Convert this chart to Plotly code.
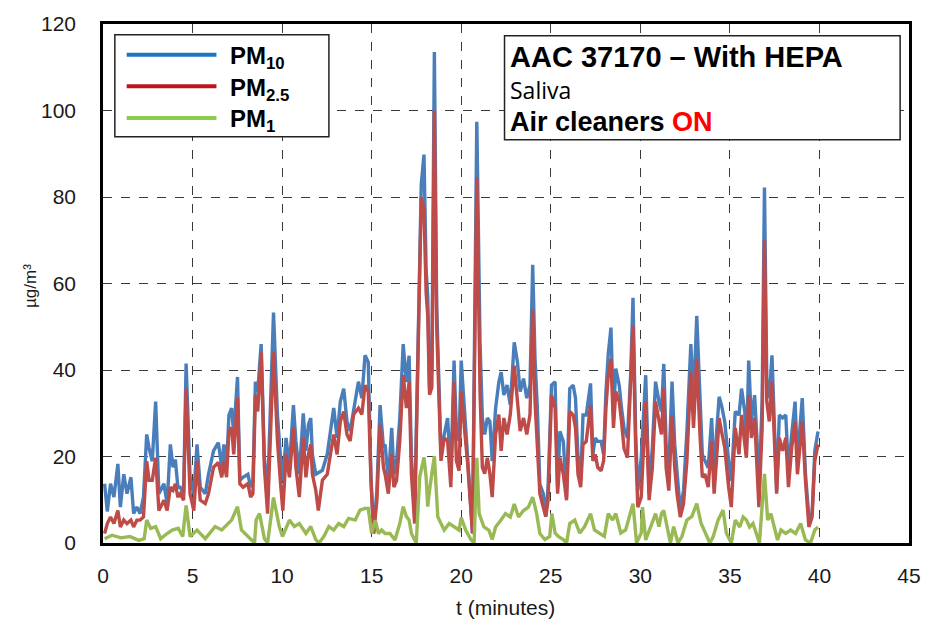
import plotly.graph_objects as go

# ---- data (time in minutes, concentrations in ug/m3) ----
t_pm = [0.09, 0.24, 0.42, 0.61, 0.83, 0.97, 1.16, 1.34, 1.56, 1.71, 1.89, 2.07, 2.26, 2.44, 2.57, 2.75,
        2.94, 3.12, 3.40, 3.58, 3.76, 3.91, 4.04, 4.18, 4.31, 4.50, 4.64, 4.86,
        5.07, 5.25, 5.43, 5.71, 5.89, 6.17, 6.44, 6.63, 6.75, 6.90, 7.03, 7.18, 7.30, 7.51, 7.64, 7.82,
        8.09, 8.24, 8.37, 8.51, 8.64, 8.83, 9.01, 9.19, 9.52, 9.74, 9.90, 10.04,
        10.22, 10.41, 10.63, 10.77, 10.96, 11.18, 11.33, 11.47, 11.60, 11.69, 11.88, 12.02, 12.25, 12.52,
        12.70, 12.88, 13.07, 13.25, 13.44, 13.62, 13.80, 13.99, 14.26, 14.45, 14.63, 14.81, 14.96,
        15.11, 15.29, 15.47, 15.66, 15.75, 15.93, 16.12, 16.24, 16.39, 16.57, 16.76, 16.94, 17.09, 17.22,
        17.40, 17.64, 17.77, 17.92, 18.04, 18.13, 18.23, 18.36, 18.50, 18.63, 18.78, 18.87, 19.05, 19.24,
        19.42, 19.60, 19.73, 19.88, 20.00,
        20.17, 20.36, 20.63, 20.87, 21.05, 21.18, 21.31, 21.46, 21.60, 21.73, 21.92, 22.10, 22.23, 22.38,
        22.56, 22.74, 22.96, 23.14, 23.29, 23.48, 23.66, 23.84, 23.99, 24.12, 24.25, 24.39, 24.58, 24.72,
        24.85, 25.04,
        25.24, 25.38, 25.51, 25.70, 25.88, 26.06, 26.25, 26.38, 26.52, 26.67, 26.80, 26.98, 27.22, 27.35,
        27.48, 27.62, 27.81, 27.95, 28.08, 28.21, 28.36, 28.50, 28.63, 28.82, 28.95, 29.09, 29.28, 29.46,
        29.59, 29.74, 29.86, 30.05,
        30.30, 30.49, 30.67, 30.85, 31.04, 31.18, 31.31, 31.44, 31.59, 31.77, 31.92, 32.05, 32.23, 32.41,
        32.60, 32.82, 32.97, 33.15, 33.33, 33.46, 33.61, 33.79, 33.98, 34.12, 34.25, 34.40, 34.53, 34.71,
        34.93, 35.08, 35.30,
        35.51, 35.65, 35.83, 35.92, 36.05, 36.20, 36.38, 36.51, 36.62, 36.80, 36.93, 37.06, 37.20, 37.35,
        37.48, 37.61, 37.76, 37.94, 38.12, 38.27, 38.45, 38.64, 38.77, 39.04, 39.22, 39.41, 39.59, 39.74,
        39.92]

pm10 = [13.7, 7.3, 13.7, 10.6, 18.3, 8.3, 15.9, 11.4, 15.2, 6.8, 8.3, 6.8, 10.6, 25.1, 22.0, 18.9,
        32.7, 11.4, 13.7, 9.1, 22.8, 17.5, 19.3, 12.9, 12.9, 11.4, 41.5, 15.2,
        11.4, 22.8, 12.9, 11.4, 15.9, 21.3, 23.2, 17.5, 22.8, 17.5, 29.6, 31.2, 25.1, 38.4, 14.5, 15.2,
        15.9, 12.9, 14.5, 37.3, 35.0, 46.0, 19.7, 11.4, 53.3, 29.6, 20.5, 14.4,
        24.3, 17.5, 31.9, 23.6, 15.9, 30.0, 21.3, 27.4, 28.9, 20.5, 15.9, 16.3, 16.8, 20.5,
        25.9, 31.2, 24.3, 32.7, 35.7, 28.1, 25.9, 30.4, 37.3, 33.5, 43.4, 41.8, 15.2,
        2.2, 12.1, 31.9, 22.0, 22.8, 14.4, 26.6, 15.9, 18.9, 28.9, 46.0, 37.2, 43.3, 19.7,
        6.8, 60.1, 83.0, 89.8, 63.2, 57.1, 35.8, 40.0, 113.5, 55.0, 32.0, 20.5, 25.1, 28.9,
        15.9, 42.2, 25.9, 23.6, 42.2,
        32.7, 19.7, 2.2, 97.4, 46.4, 28.9, 25.1, 28.9, 28.1, 18.9, 31.2, 37.2, 39.5, 34.2,
        36.5, 31.9, 46.4, 41.8, 35.0, 38.0, 33.5, 36.5, 64.3, 42.6, 31.2, 13.6, 11.4, 6.1,
        12.9, 36.5,
        37.3, 12.9, 25.8, 23.5, 10.6, 35.7, 36.5, 33.5, 19.7, 14.4, 29.6, 29.6, 36.9, 20.5,
        24.3, 23.5, 23.5, 20.5, 35.0, 43.7, 49.8, 29.6, 40.3, 36.5, 31.2, 26.6, 24.3, 38.8,
        56.7, 25.1, 12.1, 19.7,
        38.8, 11.4, 22.1, 37.3, 32.7, 30.4, 41.4, 22.8, 17.4, 37.3, 22.8, 15.9, 7.5, 12.1,
        25.8, 46.0, 32.7, 52.5, 32.0, 20.5, 19.0, 17.4, 28.9, 15.2, 25.1, 33.8, 31.9, 28.1,
        19.0, 14.4, 30.4,
        29.6, 35.7, 30.4, 20.5, 42.2, 28.1, 34.2, 24.3, 11.4, 32.7, 82.2, 38.0, 33.5, 43.4,
        28.1, 12.1, 29.6, 28.9, 29.6, 16.7, 25.1, 32.7, 19.0, 33.5, 15.9, 6.0, 6.8, 21.3,
        25.8]

pm25 = [2.2, 4.5, 6.0, 4.5, 7.5, 3.7, 5.3, 4.5, 5.3, 3.7, 5.3, 5.3, 6.0, 18.9, 14.5, 14.5,
        19.7, 7.5, 9.9, 7.5, 12.9, 12.2, 13.7, 10.6, 11.4, 9.9, 35.7, 11.4,
        7.5, 18.9, 9.9, 9.1, 11.4, 17.5, 18.6, 15.2, 18.9, 15.2, 25.9, 26.7, 20.5, 33.5, 13.7, 12.9,
        13.7, 10.6, 11.4, 34.2, 30.4, 44.1, 17.5, 6.8, 44.1, 23.6, 14.4, 7.5,
        20.5, 15.2, 26.7, 17.5, 10.6, 24.3, 15.2, 20.5, 22.8, 15.9, 12.2, 7.5, 14.5, 15.9,
        20.5, 25.1, 20.5, 28.1, 30.4, 25.1, 23.6, 29.7, 31.2, 29.7, 36.5, 35.0, 14.5,
        2.2, 9.8, 27.4, 17.4, 15.9, 11.4, 20.5, 12.9, 14.4, 23.6, 38.8, 31.2, 37.2, 15.9,
        4.5, 54.0, 79.9, 77.0, 57.9, 52.6, 34.3, 36.0, 100.0, 50.0, 27.4, 19.0, 24.3, 23.6,
        12.9, 37.2, 19.0, 16.7, 35.0,
        27.3, 18.2, 2.2, 84.5, 35.0, 17.5, 16.0, 19.7, 16.0, 10.6, 25.1, 29.7, 21.3, 28.9,
        25.1, 29.7, 41.0, 32.7, 25.9, 28.9, 25.1, 29.7, 54.0, 32.7, 23.6, 11.4, 8.3, 6.1,
        9.9, 34.2,
        31.2, 11.4, 19.7, 15.9, 9.9, 30.4, 29.6, 26.6, 15.9, 12.9, 22.8, 23.5, 31.9, 19.0,
        20.5, 17.5, 16.7, 19.0, 31.2, 38.8, 42.6, 26.6, 35.0, 32.7, 28.1, 21.9, 19.7, 36.5,
        50.2, 21.9, 8.3, 10.6,
        32.7, 9.9, 17.4, 32.7, 28.1, 25.1, 35.7, 17.4, 12.1, 29.6, 17.4, 11.4, 6.0, 9.0,
        19.0, 39.5, 26.6, 42.6, 25.1, 15.2, 15.9, 12.9, 23.6, 11.4, 19.0, 28.9, 25.9, 22.1,
        12.9, 8.3, 26.6,
        20.5, 29.6, 23.5, 19.7, 34.2, 24.3, 28.9, 18.9, 8.3, 26.6, 70.0, 32.7, 28.1, 37.3,
        22.8, 11.4, 24.3, 21.3, 24.3, 12.9, 22.0, 28.1, 15.9, 28.1, 14.4, 3.7, 6.0, 19.0,
        22.8]

t_pm1 = [0.09, 0.50, 1.00, 1.50, 2.00, 2.30, 2.44, 2.66, 2.94, 3.22, 3.58, 3.86, 4.20, 4.45, 4.64, 4.86,
         5.25, 5.71, 6.26, 6.63, 7.18, 7.51, 7.73, 8.09, 8.46, 8.55, 8.74, 9.01, 9.19, 9.52, 9.84, 10.02,
         10.13, 10.41, 10.68, 10.96, 11.33, 11.60, 11.88, 12.06, 12.33, 12.61, 12.88, 13.16, 13.44, 13.71,
         14.08, 14.35, 14.63, 14.81, 15.00,
         15.20, 15.38, 15.56, 15.75, 16.02, 16.30, 16.57, 16.76, 16.94, 17.09, 17.22, 17.49, 17.68, 17.92,
         18.04, 18.13, 18.23, 18.50, 18.69, 18.87, 19.05, 19.33, 19.60, 19.88,
         20.00, 20.26, 20.54, 20.72, 20.87, 21.00, 21.27, 21.55, 21.73, 21.92, 22.20, 22.47, 22.74, 22.96,
         23.20, 23.48, 23.75, 23.99, 24.21, 24.39, 24.67, 24.94, 25.06,
         25.24, 25.42, 25.70, 25.88, 26.06, 26.34, 26.62, 26.89, 27.22, 27.44, 27.72, 27.99, 28.21, 28.45,
         28.63, 28.91, 29.18, 29.46, 29.59, 29.79, 30.05,
         30.12, 30.30, 30.58, 30.85, 31.04, 31.18, 31.31, 31.50, 31.68, 31.86, 32.10, 32.32, 32.60, 32.87,
         33.15, 33.39, 33.61, 33.88, 34.07, 34.34, 34.62, 34.80, 35.08, 35.30,
         35.55, 35.74, 35.92, 36.10, 36.29, 36.47, 36.65, 36.93, 37.11, 37.29, 37.48, 37.66, 37.85, 38.12,
         38.39, 38.67, 38.95, 39.22, 39.50, 39.74, 39.92]

pm1 = [1.0, 1.8, 1.2, 1.5, 0.6, 1.0, 5.3, 3.4, 3.8, 1.0, 2.2, 3.0, 3.4, 1.5, 8.7, 1.5,
       3.0, 1.0, 3.8, 3.0, 5.3, 8.4, 3.0, 1.5, 0.0, 5.3, 6.8, 1.0, 0.0, 10.5, 3.8, 1.5,
       2.7, 5.3, 3.8, 4.5, 2.2, 3.8, 0.8, 0.0, 1.5, 3.8, 3.0, 4.5, 3.8, 5.7,
       5.3, 7.6, 8.0, 8.0, 2.2,
       5.3, 2.2, 3.0, 2.2, 2.2, 0.7, 4.5, 8.4, 6.1, 5.3, 2.2, 0.0, 15.2, 19.8,
       15.2, 8.4, 12.2, 20.1, 6.1, 4.5, 3.0, 4.5, 3.8, 3.0,
       5.9, 2.9, 0.8, 0.0, 19.7, 6.8, 3.7, 2.9, 0.8, 3.7, 5.2, 6.8, 6.0, 9.0,
       6.0, 7.5, 8.3, 10.6, 6.8, 2.2, 0.8, 1.5, 6.8,
       2.3, 1.5, 0.8, 0.0, 4.5, 5.3, 2.3, 3.8, 6.8, 3.0, 2.3, 1.5, 6.8, 5.3,
       6.8, 2.3, 3.0, 6.8, 9.1, 0.0, 2.3,
       8.3, 0.7, 3.8, 6.8, 3.8, 6.8, 7.5, 3.8, 0.0, 3.8, 0.0, 1.5, 5.3, 6.1,
       9.1, 4.6, 2.3, 0.0, 1.5, 5.3, 7.6, 2.3, 0.0, 5.3,
       3.7, 6.0, 5.3, 3.7, 4.5, 2.2, 0.0, 16.0, 5.3, 6.8, 3.7, 0.7, 3.0, 2.2,
       3.0, 2.2, 4.5, 0.7, 0.0, 3.0, 3.7]

x_ticks = [0, 5, 10, 15, 20, 25, 30, 35, 40, 45]
y_ticks = [0, 20, 40, 60, 80, 100, 120]

series_names = ["PM<sub>10</sub>", "PM<sub>2.5</sub>", "PM<sub>1</sub>"]
line_colors = ["#4A7EBB", "#BE4B48", "#98B954"]
legend_colors = ["#1F74C4", "#C0141B", "#8CCB4C"]

# ---- figure ----
W, H = 933, 629
L, R, T, B = 103, 920, 18, 543


def px(x):
    return (x - L) / (R - L)


def py(y):
    return (B - y) / (B - T)


fig = go.Figure()
for tx, ys, nm, col in [(t_pm, pm10, series_names[0], line_colors[0]),
                        (t_pm, pm25, series_names[1], line_colors[1]),
                        (t_pm1, pm1, series_names[2], line_colors[2])]:
    fig.add_trace(go.Scatter(x=tx, y=ys, mode="lines", name=nm,
                             line=dict(color=col, width=3.4), showlegend=False))

axis_font = dict(family="Arial, Liberation Sans, sans-serif", size=21, color="#1a1a1a")
fig.update_layout(
    width=W, height=H,
    margin=dict(l=L, r=W - R, t=T, b=H - B),
    paper_bgcolor="white", plot_bgcolor="white",
    xaxis=dict(range=[0, 45], tickvals=x_ticks, ticktext=[str(v) for v in x_ticks],
               showgrid=True, gridcolor="#3a3a3a", gridwidth=1.2, griddash="dash",
               zeroline=False, showline=True, linecolor="black", linewidth=2.5, mirror=True,
               ticks="", tickfont=axis_font, ticklabelstandoff=12),
    yaxis=dict(range=[0, 120], tickvals=y_ticks, ticktext=[str(v) for v in y_ticks],
               showgrid=True, gridcolor="#3a3a3a", gridwidth=1.2, griddash="dash",
               zeroline=False, showline=True, linecolor="black", linewidth=2.5, mirror=True,
               ticks="", tickfont=axis_font, ticklabelstandoff=20),
    showlegend=False,
)

shapes = []
annotations = []

# legend box
shapes.append(dict(type="rect", xref="paper", yref="paper", x0=px(115), x1=px(332), y0=py(132), y1=py(29),
                   line=dict(color="#222", width=1.5), fillcolor="white", layer="above"))
for i, (yy, nm, col) in enumerate(zip([49, 81, 113], series_names, legend_colors)):
    shapes.append(dict(type="line", xref="paper", yref="paper", x0=px(127), x1=px(218), y0=py(yy), y1=py(yy),
                       line=dict(color=col, width=4), layer="above"))
    annotations.append(dict(xref="paper", yref="paper", x=px(230), y=py(yy + 3), xanchor="left", yanchor="middle",
                            text="<b>" + nm + "</b>", showarrow=False,
                            font=dict(family="Arial, Liberation Sans, sans-serif", size=24, color="black")))

# info box
shapes.append(dict(type="rect", xref="paper", yref="paper", x0=px(510), x1=px(911), y0=py(135), y1=py(30),
                   line=dict(color="#222", width=1.5), fillcolor="white", layer="above"))
annotations.append(dict(xref="paper", yref="paper", x=px(514), y=py(51), xanchor="left", yanchor="middle",
                        text="<b>AAC 37170 \u2013 With HEPA</b>", showarrow=False,
                        font=dict(family="Arial, Liberation Sans, sans-serif", size=29, color="black")))
annotations.append(dict(xref="paper", yref="paper", x=px(514), y=py(85), xanchor="left", yanchor="middle",
                        text="Saliva", showarrow=False,
                        font=dict(family="Open Sans, sans-serif", size=23, color="black")))
annotations.append(dict(xref="paper", yref="paper", x=px(514), y=py(117), xanchor="left", yanchor="middle",
                        text="<b>Air cleaners <span style='color:#FF0000'>ON</span></b>", showarrow=False,
                        font=dict(family="Arial, Liberation Sans, sans-serif", size=27, color="black")))

# axis titles
annotations.append(dict(xref="paper", yref="paper", x=px(511), y=py(608), xanchor="center", yanchor="middle",
                        text="t (minutes)", showarrow=False,
                        font=dict(family="Arial, Liberation Sans, sans-serif", size=21, color="#1a1a1a")))
annotations.append(dict(xref="paper", yref="paper", x=px(30), y=py(283), xanchor="center", yanchor="middle",
                        text="\u00b5g/m\u00b3", textangle=-90, showarrow=False,
                        font=dict(family="Arial, Liberation Sans, sans-serif", size=17, color="#1a1a1a")))

fig.update_layout(shapes=shapes, annotations=annotations)
fig.write_html("out.html")
